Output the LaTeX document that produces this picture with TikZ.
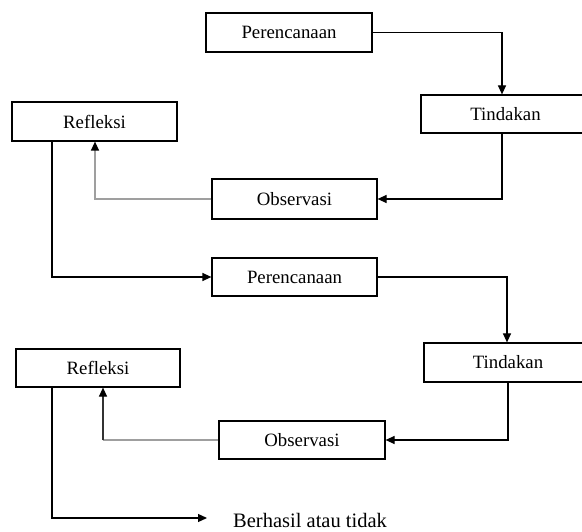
\documentclass[tikz,border=0pt]{standalone}
\usepackage{fontspec}
\setmainfont{Liberation Serif}
\usetikzlibrary{arrows.meta}
\begin{document}
\begin{tikzpicture}[x=1pt,y=-1pt,
  box/.style={draw=black, line width=1.2pt, fill=white, inner sep=0pt,
    font=\fontsize{18.8}{22}\selectfont},
  conn/.style={line width=1.2pt, -{Triangle[length=9pt,width=8pt,color=black]}},
  conng/.style={conn, draw=gray!75},
]
\useasboundingbox (0,0) rectangle (582,532);
\clip (0,0) rectangle (582,532);
\fill[white] (0,0) rectangle (582,532);
% boxes
\node[box, minimum width=166pt, minimum height=39pt] (p1) at (289,32.5) {Perencanaan};
\node[box, minimum width=169pt, minimum height=38pt] (t1) at (505.5,114) {Tindakan};
\node[box, minimum width=165pt, minimum height=39pt] (r1) at (94.5,121.5) {Refleksi};
\node[box, minimum width=165pt, minimum height=40pt] (o1) at (294.5,199) {Observasi};
\node[box, minimum width=165pt, minimum height=38pt] (p2) at (294.5,277) {Perencanaan};
\node[box, minimum width=168pt, minimum height=39pt] (t2) at (508,362.5) {Tindakan};
\node[box, minimum width=164pt, minimum height=38pt] (r2) at (98,368) {Refleksi};
\node[box, minimum width=166pt, minimum height=38pt] (o2) at (302,440) {Observasi};
\node[inner sep=0pt, anchor=west, font=\fontsize{20.5}{24}\selectfont] (res) at (233,520) {Berhasil atau tidak};
% helper x positions
\coordinate (xa) at (502,0);
\coordinate (xb) at (95,0);
\coordinate (xc) at (52,0);
\coordinate (xd) at (507,0);
\coordinate (xe) at (508,0);
\coordinate (xf) at (103,0);
\coordinate (bend) at (103,440);
\coordinate (tip) at (207,518);
% connectors
\draw[conn] (p1.east) -| (t1.north -| xa);
\draw[conn] (t1.south -| xa) |- (o1.east);
\draw[conng] (o1.west) -| (r1.south -| xb);
\draw[conn] (r1.south -| xc) |- (p2.west);
\draw[conn] (p2.east) -| (t2.north -| xd);
\draw[conn] (t2.south -| xe) |- (o2.east);
\draw[line width=1.2pt, draw=gray!75] (o2.west) -- (bend);
\draw[conn, draw=black!80] (bend) -- (r2.south -| xf);
\draw[conn] (r2.south -| xc) |- (tip);
\end{tikzpicture}
\end{document}
